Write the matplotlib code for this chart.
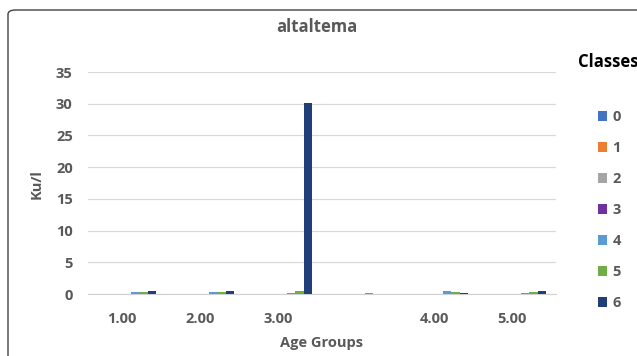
import matplotlib
matplotlib.use("Agg")
import matplotlib.pyplot as plt
import numpy as np
from matplotlib.patches import FancyBboxPatch

plt.rcParams['font.family'] = ['Open Sans', 'DejaVu Sans']

categories = ["1.00", "2.00", "3.00", "", "4.00", "5.00"]
classes = ["0", "1", "2", "3", "4", "5", "6"]
values = {
    "0": [0, 0, 0, 0, 0, 0],
    "1": [0, 0, 0, 0, 0, 0],
    "2": [0, 0, 0, 0, 0, 0],
    "3": [0, 0, 0, 0, 0, 0],
    "4": [0.3, 0.3, 0.2, 0.2, 0.4, 0.2],
    "5": [0.3, 0.3, 0.4, 0, 0.3, 0.3],
    "6": [0.5, 0.4, 30.1, 0, 0.2, 0.5],
}
colors = ["#4472C4", "#ED7D31", "#A5A5A5", "#7030A0", "#5B9BD5", "#70AD47", "#203F78"]
yticks = [0, 5, 10, 15, 20, 25, 30, 35]

W, H = 637, 356
fig = plt.figure(figsize=(W / 100, H / 100), dpi=100)

# axes placement (pixels)
left_px, right_px, top_px, bot_px = 88, 556, 72, 294
ax = fig.add_axes([left_px / W, 1 - bot_px / H, (right_px - left_px) / W, (bot_px - top_px) / H])

x = np.arange(len(categories))
bw = 0.108
handles = []
for k, c in enumerate(classes):
    offs = (k - 3) * bw + 0.06
    b = ax.bar(x + offs, values[c], width=bw, color=colors[k], label=c, zorder=3)
    handles.append(b)

ax.set_ylim(0, 35)
ax.set_xlim((left_px - 122) / 78, (right_px - 122) / 78)
ax.set_yticks(yticks)
ax.set_xticks(x)
ax.set_xticklabels(categories)
ax.grid(axis='y', color='#D9D9D9', lw=0.9, zorder=0)
for s in ['top', 'right', 'left']:
    ax.spines[s].set_visible(False)
ax.spines['bottom'].set_color('#D0D0D0')
ax.tick_params(axis='both', length=0, labelsize=10.5, labelcolor='#595959')
ax.tick_params(axis='y', pad=11)
ax.tick_params(axis='x', pad=13)
for t in ax.get_xticklabels() + ax.get_yticklabels():
    t.set_fontweight('bold')

ax.set_xlabel("Age Groups", fontsize=10.5, fontweight='bold', color='#595959', labelpad=7)
fig.text(37 / W, 1 - 184 / H, "Ku/l", rotation=90, ha='center', va='center',
         fontsize=10.5, fontweight='bold', color='#595959')
fig.text(317 / W, 1 - 27 / H, "altaltema", ha='center', va='center',
         fontsize=12, fontweight='bold', color='#595959')
fig.text(578 / W, 1 - 62 / H, "Classes", ha='left', va='center',
         fontsize=12, fontweight='bold', color='#000000')

leg = fig.legend(handles=handles, labels=classes, loc='upper left',
                 bbox_to_anchor=(598 / W, 1 - 110 / H), frameon=False,
                 fontsize=10.5, handlelength=0.65, handleheight=0.65,
                 handletextpad=0.35, labelspacing=1.17, borderpad=0, borderaxespad=0)
for t in leg.get_texts():
    t.set_color('#595959')
    t.set_fontweight('bold')

border = FancyBboxPatch((8 / W, -0.2), 1.2, 1 - 10 / H + 0.2,
                        boxstyle="round,pad=0,rounding_size=0.012",
                        transform=fig.transFigure, fill=False, edgecolor='#404040', lw=1.0)
fig.patches.append(border)

fig.savefig("out.png", dpi=100)
